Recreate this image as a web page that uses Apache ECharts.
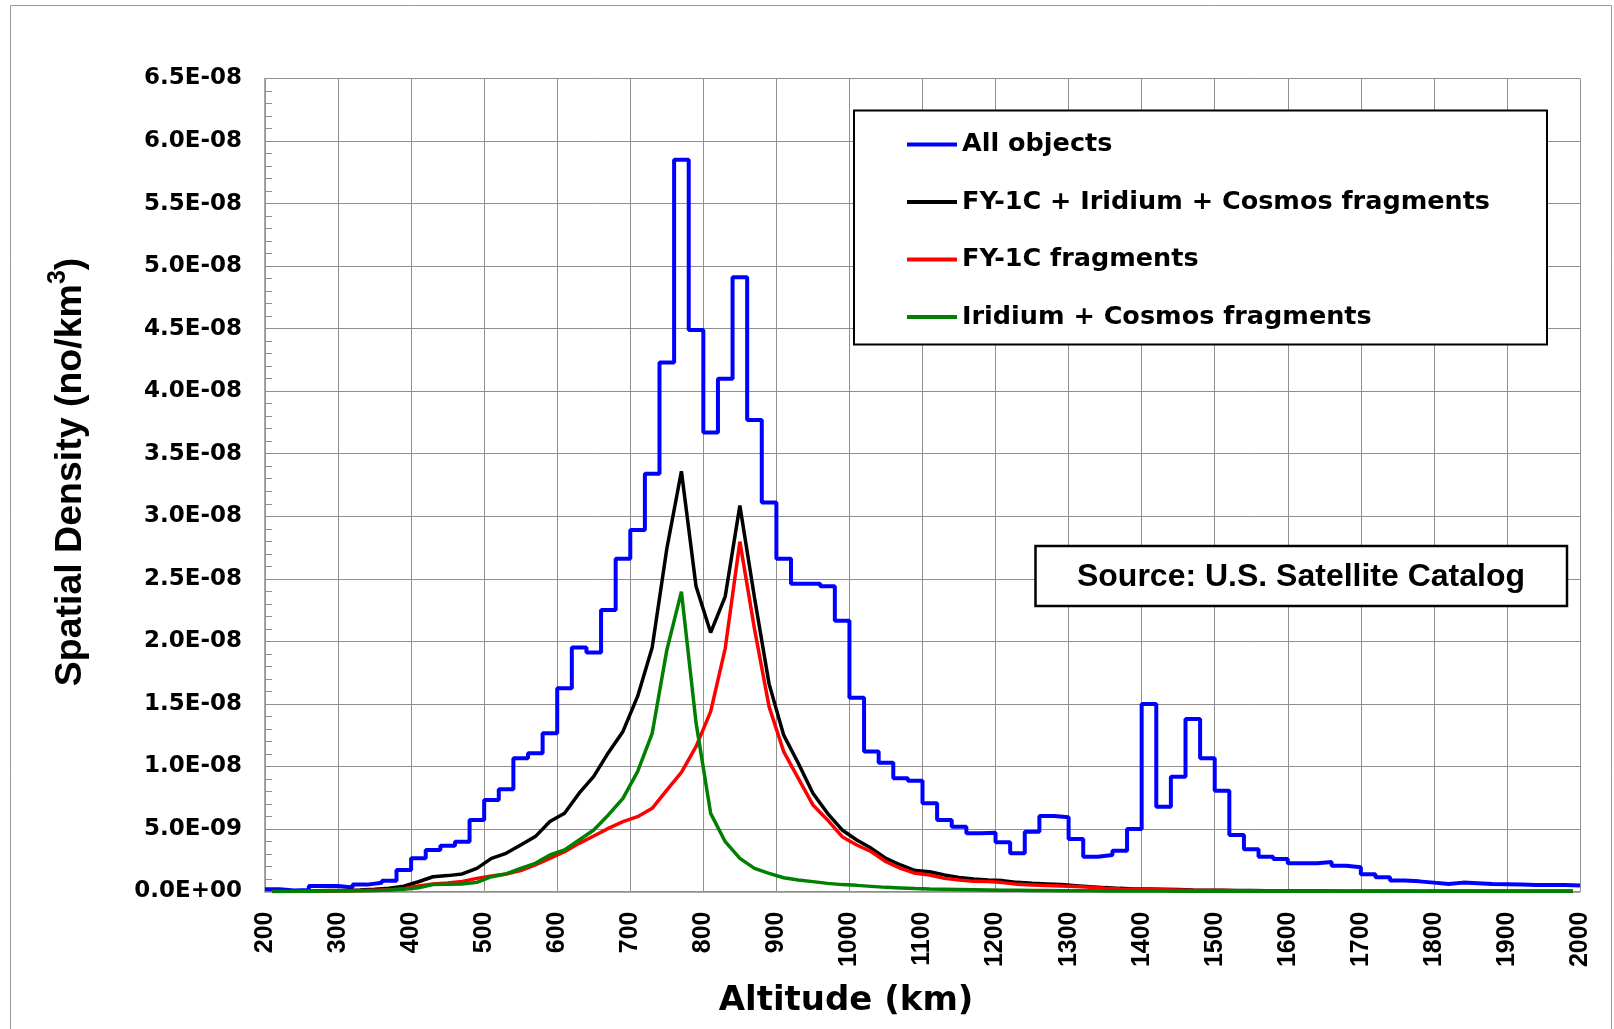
<!DOCTYPE html>
<html>
<head>
<meta charset="utf-8">
<script src="https://cdn.jsdelivr.net/npm/echarts@6/dist/echarts.min.js"></script>
<style>html,body{margin:0;padding:0;background:#fff}#c{width:1614px;height:1029px}</style>
</head>
<body>
<div id="c"></div>
<script>
// Bin centres (km) of the 20 km altitude bins
const binCenters = [210,230,250,270,290,310,330,350,370,390,410,430,450,470,490,510,530,550,570,590,
  610,630,650,670,690,710,730,750,770,790,810,830,850,870,890,910,930,950,970,990,
  1010,1030,1050,1070,1090,1110,1130,1150,1170,1190,1210,1230,1250,1270,1290,1310,1330,1350,1370,1390,
  1410,1430,1450,1470,1490,1510,1530,1550,1570,1590,1610,1630,1650,1670,1690,1710,1730,1750,1770,1790,
  1810,1830,1850,1870,1890,1910,1930,1950,1970,1990];
const binWidth = 20;

const allObjects = [0.18e-9,0.08e-9,0.12e-9,0.44e-9,0.44e-9,0.33e-9,0.55e-9,0.70e-9,0.86e-9,1.72e-9,
  2.65e-9,3.32e-9,3.66e-9,3.98e-9,5.72e-9,7.32e-9,8.17e-9,10.65e-9,11.05e-9,12.65e-9,
  16.25e-9,19.5e-9,19.1e-9,22.5e-9,26.6e-9,28.9e-9,33.4e-9,42.3e-9,58.5e-9,44.9e-9,
  36.7e-9,41.0e-9,49.1e-9,37.7e-9,31.1e-9,26.6e-9,24.6e-9,24.6e-9,24.4e-9,21.65e-9,
  15.5e-9,11.2e-9,10.3e-9,9.05e-9,8.86e-9,7.05e-9,5.72e-9,5.18e-9,4.65e-9,4.7e-9,
  3.93e-9,3.05e-9,4.78e-9,6.04e-9,5.93e-9,4.2e-9,2.78e-9,2.92e-9,3.26e-9,5.0e-9,
  15.0e-9,6.78e-9,9.18e-9,13.79e-9,10.65e-9,8.06e-9,4.52e-9,3.37e-9,2.78e-9,2.6e-9,
  2.25e-9,2.25e-9,2.36e-9,2.06e-9,1.93e-9,1.37e-9,1.13e-9,0.87e-9,0.81e-9,0.71e-9,
  0.6e-9,0.71e-9,0.66e-9,0.6e-9,0.58e-9,0.55e-9,0.52e-9,0.52e-9,0.52e-9,0.47e-9];

const fy1cIridiumCosmos = [0.0,0.01e-9,0.03e-9,0.05e-9,0.07e-9,0.09e-9,0.12e-9,0.18e-9,0.26e-9,0.42e-9,
  0.78e-9,1.18e-9,1.27e-9,1.4e-9,1.85e-9,2.65e-9,3.05e-9,3.72e-9,4.39e-9,5.6e-9,
  6.26e-9,7.86e-9,9.2e-9,11.1e-9,12.8e-9,15.6e-9,19.5e-9,27.4e-9,33.6e-9,24.4e-9,
  20.7e-9,23.6e-9,30.85e-9,23.5e-9,16.6e-9,12.5e-9,10.25e-9,7.85e-9,6.25e-9,4.92e-9,
  4.12e-9,3.45e-9,2.65e-9,2.12e-9,1.67e-9,1.58e-9,1.32e-9,1.13e-9,1.0e-9,0.92e-9,
  0.87e-9,0.73e-9,0.65e-9,0.6e-9,0.55e-9,0.47e-9,0.39e-9,0.31e-9,0.25e-9,0.2e-9,
  0.2e-9,0.18e-9,0.15e-9,0.12e-9,0.1e-9,0.09e-9,0.08e-9,0.07e-9,0.05e-9,0.04e-9,
  0.03e-9,0.03e-9,0.03e-9,0.02e-9,0.02e-9,0.02e-9,0.02e-9,0.02e-9,0.02e-9,0.01e-9,
  0.01e-9,0.01e-9,0.01e-9,0.01e-9,0.01e-9,0.01e-9,0.01e-9,0.01e-9,0.01e-9,0.01e-9];

const fy1c = [0.0,0.0,0.02e-9,0.03e-9,0.04e-9,0.05e-9,0.07e-9,0.1e-9,0.13e-9,0.22e-9,
  0.45e-9,0.6e-9,0.68e-9,0.8e-9,1.05e-9,1.24e-9,1.4e-9,1.67e-9,2.12e-9,2.65e-9,
  3.18e-9,3.85e-9,4.44e-9,5.05e-9,5.58e-9,5.98e-9,6.65e-9,8.11e-9,9.53e-9,11.58e-9,
  14.38e-9,19.44e-9,27.97e-9,21.0e-9,14.78e-9,11.18e-9,9.05e-9,6.92e-9,5.72e-9,4.38e-9,
  3.72e-9,3.18e-9,2.38e-9,1.85e-9,1.45e-9,1.32e-9,1.05e-9,0.92e-9,0.81e-9,0.79e-9,
  0.71e-9,0.57e-9,0.52e-9,0.47e-9,0.44e-9,0.39e-9,0.34e-9,0.26e-9,0.2e-9,0.17e-9,
  0.15e-9,0.13e-9,0.11e-9,0.09e-9,0.08e-9,0.07e-9,0.06e-9,0.05e-9,0.04e-9,0.03e-9,
  0.02e-9,0.02e-9,0.02e-9,0.02e-9,0.01e-9,0.01e-9,0.01e-9,0.01e-9,0.01e-9,0.01e-9,
  0.01e-9,0.01e-9,0.01e-9,0.01e-9,0.01e-9,0.01e-9,0.01e-9,0.01e-9,0.01e-9,0.01e-9];

const iridiumCosmos = [0.0,0.0,0.01e-9,0.02e-9,0.03e-9,0.04e-9,0.05e-9,0.07e-9,0.12e-9,0.18e-9,
  0.3e-9,0.55e-9,0.58e-9,0.6e-9,0.73e-9,1.18e-9,1.4e-9,1.85e-9,2.25e-9,2.92e-9,
  3.32e-9,4.12e-9,4.92e-9,6.12e-9,7.45e-9,9.58e-9,12.65e-9,19.3e-9,23.97e-9,13.5e-9,
  6.25e-9,3.98e-9,2.65e-9,1.85e-9,1.45e-9,1.1e-9,0.92e-9,0.79e-9,0.65e-9,0.55e-9,
  0.49e-9,0.41e-9,0.33e-9,0.28e-9,0.23e-9,0.2e-9,0.18e-9,0.16e-9,0.14e-9,0.12e-9,
  0.1e-9,0.09e-9,0.08e-9,0.07e-9,0.06e-9,0.05e-9,0.05e-9,0.04e-9,0.04e-9,0.03e-9,
  0.03e-9,0.03e-9,0.02e-9,0.02e-9,0.02e-9,0.02e-9,0.02e-9,0.01e-9,0.01e-9,0.01e-9,
  0.01e-9,0.01e-9,0.01e-9,0.01e-9,0.01e-9,0.01e-9,0.01e-9,0.01e-9,0.01e-9,0.01e-9,
  0.01e-9,0.01e-9,0.01e-9,0.01e-9,0.01e-9,0.01e-9,0.01e-9,0.01e-9,0.01e-9,0.01e-9];

const seriesNames = ['All objects', 'FY-1C + Iridium + Cosmos fragments', 'FY-1C fragments', 'Iridium + Cosmos fragments'];
const yTickLabels = ['0.0E+00','5.0E-09','1.0E-08','1.5E-08','2.0E-08','2.5E-08','3.0E-08','3.5E-08','4.0E-08','4.5E-08','5.0E-08','5.5E-08','6.0E-08','6.5E-08'];
const xTickLabels = ['200','300','400','500','600','700','800','900','1000','1100','1200','1300','1400','1500','1600','1700','1800','1900','2000'];
const xTitle = 'Altitude (km)';
const yTitleMain = 'Spatial Density (no/km';
const yTitleSup = '3';
const sourceText = 'Source: U.S. Satellite Catalog';

// histogram outline: each bin starts at centre - width/2, closed at the upper edge
const histData = binCenters.map((c, i) => [c - binWidth / 2, allObjects[i]]);
histData.push([binCenters[binCenters.length - 1] + binWidth / 2, allObjects[allObjects.length - 1]]);
const pairs = arr => binCenters.map((c, i) => [c, arr[i]]);

const chart = echarts.init(document.getElementById('c'), null, {renderer: 'canvas'});
const gridCol = '#8f8f8f';
chart.setOption({
  animation: false,
  backgroundColor: '#fff',
  grid: {left: 265, right: 34, top: 78.5, bottom: 137.5, outerBoundsMode: 'none', containLabel: false},
  xAxis: {
    type: 'value', min: 200, max: 2000, interval: 100,
    axisLine: {show: true, lineStyle: {color: gridCol, width: 1.5}},
    axisTick: {show: false},
    splitLine: {show: true, lineStyle: {color: gridCol, width: 1}},
    axisLabel: {
      rotate: 90, margin: 20, color: '#000',
      fontFamily: 'Liberation Sans', fontWeight: 'bold', fontSize: 25,
      formatter: v => xTickLabels[Math.round((v - 200) / 100)]
    }
  },
  yAxis: {
    type: 'value', min: 0, max: 6.5e-8, interval: 0.5e-8,
    axisLine: {show: true, lineStyle: {color: gridCol, width: 1.5}},
    axisTick: {show: true, inside: true, length: 7, lineStyle: {color: gridCol}},
    minorTick: {show: true, splitNumber: 5, length: 7, lineStyle: {color: gridCol}},
    splitLine: {show: true, lineStyle: {color: gridCol, width: 1}},
    axisLabel: {
      margin: 23, color: '#000',
      fontFamily: 'DejaVu Sans', fontWeight: 'bold', fontSize: 23,
      formatter: v => yTickLabels[Math.round(v / 0.5e-8)]
    }
  },
  legend: {
    show: true, orient: 'vertical', left: 907, top: 131.5, padding: 0,
    itemGap: 31.5, itemWidth: 50, itemHeight: 4, icon: 'rect', selectedMode: false,
    textStyle: {fontFamily: 'DejaVu Sans', fontWeight: 'bold', fontSize: 25.5, color: '#000', lineHeight: 25},
    data: seriesNames,
    z: 5
  },
  series: [
    {name: seriesNames[0], type: 'line', data: histData, step: 'end', symbol: 'none',
     color: '#0000ff', lineStyle: {color: '#0000ff', width: 4}, z: 2},
    {name: seriesNames[1], type: 'line', data: pairs(fy1cIridiumCosmos), symbol: 'none',
     color: '#000000', lineStyle: {color: '#000000', width: 3.5}, z: 2},
    {name: seriesNames[2], type: 'line', data: pairs(fy1c), symbol: 'none',
     color: '#ff0000', lineStyle: {color: '#ff0000', width: 3.5}, z: 2},
    {name: seriesNames[3], type: 'line', data: pairs(iridiumCosmos), symbol: 'none',
     color: '#008000', lineStyle: {color: '#008000', width: 3.5}, z: 2}
  ],
  graphic: [
    {type: 'rect', z: 0, silent: true, shape: {x: 10.5, y: 5.5, width: 1601, height: 1100},
     style: {fill: 'none', stroke: '#9a9a9a', lineWidth: 1}},
    {type: 'rect', z: 3, silent: true, shape: {x: 854, y: 110.5, width: 693, height: 234},
     style: {fill: '#fff', stroke: '#000', lineWidth: 2}},
    {type: 'rect', z: 3, silent: true, shape: {x: 1035.5, y: 546, width: 531.5, height: 60},
     style: {fill: '#fff', stroke: '#000', lineWidth: 2.5}},
    {type: 'text', z: 4, silent: true, x: 1301, y: 577,
     style: {text: sourceText, fill: '#000', fontFamily: 'Liberation Sans', fontWeight: 'bold', fontSize: 32,
       align: 'center', verticalAlign: 'middle', textAlign: 'center', textVerticalAlign: 'middle'}},
    {type: 'text', z: 4, silent: true, x: 846, y: 1001,
     style: {text: xTitle, fill: '#000', fontFamily: 'DejaVu Sans', fontWeight: 'bold', fontSize: 34,
       align: 'center', verticalAlign: 'middle', textAlign: 'center', textVerticalAlign: 'middle'}},
    {type: 'text', z: 4, silent: true, x: 68, y: 472, rotation: Math.PI / 2,
     style: {text: '{a|' + yTitleMain + '}{s|' + yTitleSup + '}{a|)}', fill: '#000',
       align: 'center', verticalAlign: 'middle', textAlign: 'center', textVerticalAlign: 'middle',
       rich: {
         a: {fontFamily: 'Liberation Sans', fontWeight: 'bold', fontSize: 37.5, lineHeight: 44, fill: '#000', verticalAlign: 'bottom'},
         s: {fontFamily: 'Liberation Sans', fontWeight: 'bold', fontSize: 25, lineHeight: 25, fill: '#000', verticalAlign: 'top'}
       }}}
  ]
});
</script>
</body>
</html>
